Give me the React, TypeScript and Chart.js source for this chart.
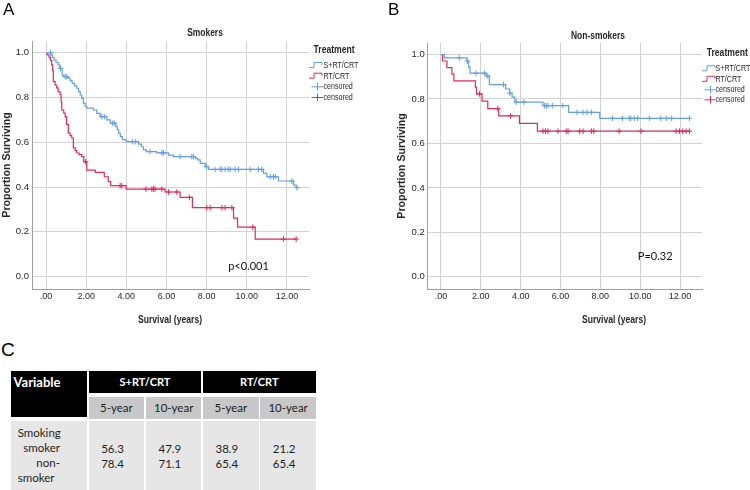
import React, { useEffect, useRef } from 'react';
import { Chart, registerables } from 'chart.js';

Chart.register(...registerables);

// ---------- axis ticks ----------
const X_TICKS = [0, 2, 4, 6, 8, 10, 12];
const X_TICK_LABELS = ['.00', '2.00', '4.00', '6.00', '8.00', '10.00', '12.00'];
const Y_TICKS = [0, 0.2, 0.4, 0.6, 0.8, 1.0];
const Y_TICK_LABELS = ['0.0', '0.2', '0.4', '0.6', '0.8', '1.0'];

const X_TITLE = 'Survival (years)';
const Y_TITLE = 'Proportion Surviving';
const LEGEND_TITLE = 'Treatment';
const LEGEND_LABELS = ['S+RT/CRT', 'RT/CRT', 'censored', 'censored'];

// ---------- A: Smokers ----------
const SMK_SURG_TIMES = [0, 0.25, 0.32, 0.40, 0.50, 0.61, 0.68, 0.80, 0.88, 1.08, 1.20, 1.30, 1.42, 1.53, 1.62, 1.70, 1.78, 1.86, 1.95, 2.03, 2.36, 2.53, 2.70, 3.03, 3.20, 3.48, 3.55, 3.62, 3.70, 3.80, 3.99, 4.60, 4.75, 4.85, 5.00, 5.50, 6.10, 6.35, 7.45, 7.55, 7.68, 7.93, 8.09, 10.83, 11.00, 11.58, 12.33, 12.46];
const SMK_SURG_SURV = [1, 0.99, 0.978, 0.967, 0.956, 0.945, 0.93, 0.90, 0.893, 0.886, 0.875, 0.863, 0.852, 0.841, 0.826, 0.811, 0.796, 0.774, 0.76, 0.752, 0.744, 0.729, 0.714, 0.70, 0.685, 0.67, 0.655, 0.64, 0.625, 0.612, 0.603, 0.592, 0.58, 0.566, 0.558, 0.553, 0.543, 0.536, 0.528, 0.521, 0.506, 0.491, 0.479, 0.461, 0.446, 0.427, 0.409, 0.397];
const SMK_SURG_CENSOR = [0.22, 0.72, 0.95, 1.03, 2.78, 2.92, 3.32, 3.40, 4.30, 4.44, 5.18, 5.77, 5.85, 6.68, 7.26, 7.34, 8.00, 8.42, 8.67, 8.76, 8.92, 9.07, 9.17, 9.42, 9.59, 10.17, 10.58, 10.75, 11.17, 11.33, 11.42, 12.25, 12.50];

const SMK_RT_TIMES = [0, 0.05, 0.15, 0.22, 0.28, 0.33, 0.36, 0.45, 0.53, 0.60, 0.70, 0.75, 0.78, 0.88, 0.95, 1.02, 1.11, 1.20, 1.28, 1.36, 1.45, 1.53, 1.65, 1.78, 1.88, 2.03, 2.45, 2.90, 3.10, 3.22, 3.99, 5.93, 6.68, 7.29, 9.34, 9.54, 10.42];
const SMK_RT_SURV = [1, 0.99, 0.98, 0.965, 0.945, 0.92, 0.871, 0.855, 0.843, 0.825, 0.812, 0.78, 0.744, 0.73, 0.714, 0.68, 0.641, 0.63, 0.619, 0.575, 0.563, 0.552, 0.545, 0.536, 0.513, 0.476, 0.466, 0.446, 0.424, 0.406, 0.391, 0.378, 0.354, 0.308, 0.261, 0.221, 0.168];
const SMK_RT_CENSOR = [1.97, 3.69, 3.77, 4.98, 5.27, 5.35, 5.43, 5.77, 6.10, 6.51, 7.14, 8.01, 8.18, 8.76, 8.92, 9.26, 10.30, 11.83, 12.46];

// ---------- B: Non-smokers ----------
const NON_SURG_TIMES = [0, 0.17, 1.31, 1.39, 1.46, 2.27, 2.43, 3.24, 3.44, 3.57, 3.71, 5.12, 6.41, 7.97];
const NON_SURG_SURV = [1, 0.985, 0.971, 0.943, 0.916, 0.903, 0.865, 0.845, 0.826, 0.808, 0.786, 0.770, 0.740, 0.713];
const NON_SURG_CENSOR = [0.92, 1.33, 1.76, 2.18, 2.35, 3.14, 3.46, 3.78, 4.16, 5.20, 5.29, 5.37, 5.59, 6.12, 6.83, 7.13, 7.33, 7.55, 8.61, 9.11, 9.45, 9.53, 9.70, 9.87, 10.46, 11.03, 11.30, 11.58, 12.47];

const NON_RT_TIMES = [0, 0.08, 0.30, 0.55, 0.65, 1.73, 1.78, 2.06, 2.35, 2.90, 3.94, 4.84];
const NON_RT_SURV = [1, 0.971, 0.941, 0.912, 0.882, 0.853, 0.823, 0.79, 0.757, 0.724, 0.69, 0.655];
const NON_RT_CENSOR = [1.93, 2.85, 3.49, 5.12, 5.25, 5.37, 5.87, 6.29, 6.38, 6.96, 7.13, 7.55, 7.67, 8.94, 10.04, 11.80, 11.97, 12.13, 12.30, 12.47];

// ---------- C: table ----------
const TABLE_VAR_HEADER = 'Variable';
const TABLE_GROUPS = ['S+RT/CRT', 'RT/CRT'];
const TABLE_SUBHEADERS = ['5-year', '10-year', '5-year', '10-year'];
const TABLE_ROW_LABEL_LINES = ['Smoking', 'smoker', 'non-', 'smoker'];
const SMOKER_VALUES = ['56.3', '47.9', '38.9', '21.2'];
const NONSMOKER_VALUES = ['78.4', '71.1', '65.4', '65.4'];

// ---------- styles ----------
const BLUE = 'rgb(98,158,232)';
const RED = 'rgb(228,40,92)';
const GRID = '#d2d2d2';
const AXIS = '#a0a0a0';
const TEXT = '#262626';
const SANS = '"Liberation Sans", Arial, sans-serif';
const LATO = 'Lato, "Open Sans", sans-serif';
const NARROW_SX = 0.82;

type Curve = { times: number[]; surv: number[]; censor: number[]; color: string };

function survAt(times: number[], surv: number[], t: number) {
  let v = surv[0];
  for (let i = 0; i < times.length; i++) if (times[i] <= t) v = surv[i];
  return v;
}

function curveDatasets(c: Curve) {
  const pts = c.times.map((t, i) => ({ x: t, y: c.surv[i] }));
  const lastC = Math.max(...c.censor);
  if (lastC > c.times[c.times.length - 1]) pts.push({ x: lastC, y: c.surv[c.surv.length - 1] });
  const cens = c.censor.map((t) => ({ x: t, y: survAt(c.times, c.surv, t) }));
  return [
    {
      data: pts, borderColor: c.color, borderWidth: 1.2, pointRadius: 0, stepped: 'before', fill: false,
      showLine: true, order: 2,
    },
    {
      data: cens, borderColor: c.color, backgroundColor: c.color, borderWidth: 1, pointStyle: 'cross',
      pointRadius: 2.8, showLine: false, order: 1,
    },
  ];
}

type Overlay = {
  title: string; titleX: number; titleY: number;
  pText: string; pX: number; pY: number;
  xTitleX: number; xTitleY: number;
  legend: { treatX: number; headY: number; iconX: number; textX: number; rows: number[] };
};

function narrowText(ctx: CanvasRenderingContext2D, text: string, x: number, y: number, font: string, align: CanvasTextAlign, color: string) {
  ctx.save();
  ctx.translate(x, y);
  ctx.scale(NARROW_SX, 1);
  ctx.font = font;
  ctx.textAlign = align;
  ctx.textBaseline = 'middle';
  ctx.fillStyle = color;
  ctx.fillText(text, 0, 0);
  ctx.restore();
}

function makeOverlay(o: Overlay) {
  return {
    id: 'overlay',
    afterDraw(chart: any) {
      const ctx: CanvasRenderingContext2D = chart.ctx;
      ctx.save();
      narrowText(ctx, o.title, o.titleX, o.titleY, `bold 10.3px ${SANS}`, 'center', TEXT);
      narrowText(ctx, X_TITLE, o.xTitleX, o.xTitleY, `bold 10.5px ${SANS}`, 'center', TEXT);
      ctx.font = `11px ${LATO}`;
      ctx.fillStyle = '#111';
      ctx.textAlign = 'center';
      ctx.textBaseline = 'middle';
      ctx.fillText(o.pText, o.pX, o.pY);
      // legend
      const L = o.legend;
      narrowText(ctx, LEGEND_TITLE, L.treatX, L.headY, `bold 10.5px ${SANS}`, 'left', TEXT);
      const colors = [BLUE, RED, BLUE, RED];
      L.rows.forEach((y, i) => {
        ctx.strokeStyle = colors[i];
        ctx.lineWidth = 1;
        ctx.beginPath();
        if (i < 2) {
          ctx.moveTo(L.iconX, y + 2.5);
          ctx.lineTo(L.iconX + 5, y + 2.5);
          ctx.lineTo(L.iconX + 5, y - 2.5);
          ctx.lineTo(L.iconX + 13, y - 2.5);
          ctx.lineTo(L.iconX + 13, y);
        } else {
          ctx.moveTo(L.iconX + 2.5, y + 0.5);
          ctx.lineTo(L.textX, y + 0.5);
          ctx.moveTo(L.iconX + 8.5, y - 3.5);
          ctx.lineTo(L.iconX + 8.5, y + 4);
        }
        ctx.stroke();
        narrowText(ctx, LEGEND_LABELS[i], L.textX, y + 0.5, `8.7px ${SANS}`, 'left', TEXT);
      });
      ctx.restore();
    },
  };
}

function makeConfig(curves: Curve[], padTop: number, padRight: number, yLabelPad: number, overlay: Overlay): any {
  return {
    type: 'line',
    data: { datasets: curves.flatMap(curveDatasets) },
    options: {
      animation: false,
      responsive: false,
      maintainAspectRatio: false,
      events: [],
      layout: { padding: { left: 0, top: padTop, right: padRight, bottom: 0 } },
      plugins: { legend: { display: false }, tooltip: { enabled: false }, title: { display: false } },
      scales: {
        x: {
          type: 'linear', min: -0.7, max: 13.1,
          afterBuildTicks: (s: any) => { s.ticks = X_TICKS.map((v) => ({ value: v })); },
          afterFit: (s: any) => { s.height = 46; },
          ticks: {
            callback: (v: number) => X_TICK_LABELS[X_TICKS.indexOf(v)],
            font: { family: SANS, size: 9 }, color: TEXT, padding: 2.5, maxRotation: 0, autoSkip: false,
          },
          grid: { color: GRID, lineWidth: 1, drawTicks: false },
          border: { color: AXIS, width: 1 },
          title: { display: false },
        },
        y: {
          type: 'linear', min: -0.055, max: 1.052,
          afterBuildTicks: (s: any) => { s.ticks = Y_TICKS.map((v) => ({ value: v })); },
          afterFit: (s: any) => { s.width = 32; },
          ticks: {
            callback: (v: number) => Y_TICK_LABELS[Y_TICKS.indexOf(v)],
            font: { family: SANS, size: 9.5 }, color: TEXT, padding: yLabelPad,
          },
          grid: { color: GRID, lineWidth: 1, drawTicks: false },
          border: { color: AXIS, width: 1 },
          title: {
            display: true, text: Y_TITLE, color: TEXT,
            font: { family: SANS, size: 10.6, weight: 'bold' }, padding: { top: 0.6, bottom: 0 },
          },
        },
      },
    },
    plugins: [makeOverlay(overlay)],
  };
}

const cellBase: React.CSSProperties = { position: 'absolute', boxSizing: 'border-box', display: 'flex', alignItems: 'center', whiteSpace: 'nowrap' };

export default function App() {
  const refA = useRef<HTMLCanvasElement>(null);
  const refB = useRef<HTMLCanvasElement>(null);

  useEffect(() => {
    const a = new Chart(refA.current!, makeConfig(
      [
        { times: SMK_SURG_TIMES, surv: SMK_SURG_SURV, censor: SMK_SURG_CENSOR, color: BLUE },
        { times: SMK_RT_TIMES, surv: SMK_RT_SURV, censor: SMK_RT_CENSOR, color: RED },
      ],
      41, 66, 3,
      {
        title: 'Smokers', titleX: 205, titleY: 33, pText: 'p<0.001', pX: 248.5, pY: 266.7,
        xTitleX: 170, xTitleY: 320,
        legend: { treatX: 313.5, headY: 50.5, iconX: 309, textX: 323.5, rows: [65, 75.7, 86.3, 97] },
      },
    ));
    const b = new Chart(refB.current!, makeConfig(
      [
        { times: NON_SURG_TIMES, surv: NON_SURG_SURV, censor: NON_SURG_CENSOR, color: BLUE },
        { times: NON_RT_TIMES, surv: NON_RT_SURV, censor: NON_RT_CENSOR, color: RED },
      ],
      43, 48, 2.3,
      {
        title: 'Non-smokers', titleX: 203, titleY: 35.7, pText: 'P=0.32', pX: 260.2, pY: 256,
        xTitleX: 219, xTitleY: 320,
        legend: { treatX: 311.7, headY: 53, iconX: 307, textX: 320.5, rows: [68.3, 78.8, 89.3, 99.3] },
      },
    ));
    return () => { a.destroy(); b.destroy(); };
  }, []);

  const cols: [number, number][] = [[88.7, 144], [146, 201.3], [203, 258.7], [260.3, 316]];
  const groupCols: [number, number][] = [[88.7, 201.3], [202.7, 316]];
  const headFont: React.CSSProperties = { fontFamily: LATO, fontWeight: 700, color: '#fff' };
  const bodyFont: React.CSSProperties = { fontFamily: LATO, fontSize: 11.5, color: '#1e1e1e', lineHeight: '15px' };

  return (
    <div style={{ position: 'absolute', left: 0, top: 0, width: 750, height: 490, background: '#fff', overflow: 'hidden' }}>
      <canvas ref={refA} width={375} height={335} style={{ position: 'absolute', left: 0, top: 0 }} />
      <canvas ref={refB} width={355} height={335} style={{ position: 'absolute', left: 395, top: 0 }} />
      <div style={{ position: 'absolute', left: 3, top: 1, fontFamily: SANS, fontSize: 17, lineHeight: '17px', color: '#000' }}>A</div>
      <div style={{ position: 'absolute', left: 388, top: 1, fontFamily: SANS, fontSize: 17, lineHeight: '17px', color: '#000' }}>B</div>
      <div style={{ position: 'absolute', left: 1, top: 340, fontFamily: SANS, fontSize: 19, lineHeight: '19px', color: '#000' }}>C</div>

      {/* header row */}
      <div style={{ ...cellBase, left: 11, top: 371, width: 76.3, height: 46.3, background: '#000', alignItems: 'flex-start' }}>
        <div style={{ ...headFont, fontSize: 13, height: 22, lineHeight: '22px', paddingLeft: 2.5 }}>{TABLE_VAR_HEADER}</div>
      </div>
      {TABLE_GROUPS.map((g, i) => (
        <div key={g} style={{ ...cellBase, ...headFont, fontSize: 11, left: groupCols[i][0], top: 371, width: groupCols[i][1] - groupCols[i][0], height: 21.7, background: '#000', justifyContent: 'center' }}>{g}</div>
      ))}
      {TABLE_SUBHEADERS.map((s, i) => (
        <div key={i} style={{ ...cellBase, ...bodyFont, left: cols[i][0], top: 397.3, width: cols[i][1] - cols[i][0], height: 21.4, background: '#c8c8c8', justifyContent: 'center' }}>{s}</div>
      ))}
      {/* data row */}
      <div style={{ ...cellBase, left: 11, top: 420.7, width: 76.3, height: 70, background: '#e6e6e6' }}>
        <div style={{ ...bodyFont, position: 'absolute', left: 6.7, top: 4, width: 42.3 }}>
          {TABLE_ROW_LABEL_LINES.map((l, i) => (
            <div key={i} style={{ textAlign: i === 1 || i === 2 ? 'right' : 'left' }}>{l}</div>
          ))}
        </div>
      </div>
      {cols.map((c, i) => (
        <div key={i} style={{ ...cellBase, ...bodyFont, left: c[0], top: 420.7, width: c[1] - c[0], height: 70, background: '#e6e6e6', flexDirection: 'column', alignItems: 'flex-start', justifyContent: 'center', paddingLeft: 12.5 }}>
          <div>{SMOKER_VALUES[i]}</div>
          <div>{NONSMOKER_VALUES[i]}</div>
        </div>
      ))}
    </div>
  );
}
